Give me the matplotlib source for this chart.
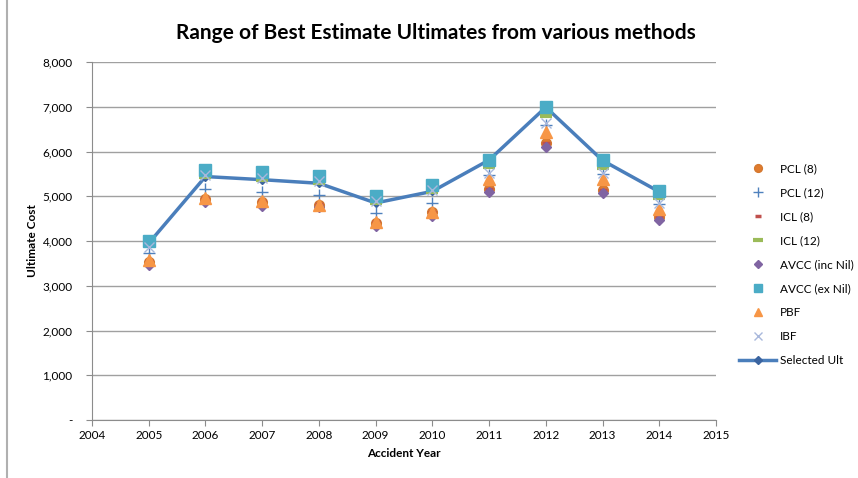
import matplotlib.pyplot as plt
from matplotlib.lines import Line2D
from matplotlib.ticker import FuncFormatter

plt.rcParams['font.family'] = ['Lato', 'DejaVu Sans']

years = [2005, 2006, 2007, 2008, 2009, 2010, 2011, 2012, 2013, 2014]

pcl_8 = [3540, 4940, 4880, 4810, 4410, 4640, 5160, 6190, 5140, 4530]
pcl_12 = [3730, 5160, 5100, 5030, 4620, 4860, 5480, 6600, 5500, 4820]
icl_8 = [3560, 4950, 4890, 4820, 4420, 4650, 5170, 6200, 5150, 4540]
icl_12 = [3920, 5440, 5360, 5300, 4860, 5100, 5660, 6790, 5640, 4970]
avcc_inc = [3470, 4870, 4790, 4750, 4330, 4550, 5100, 6110, 5070, 4470]
avcc_ex = [4010, 5580, 5540, 5460, 5010, 5260, 5820, 7000, 5810, 5110]
pbf = [3580, 4950, 4890, 4810, 4420, 4650, 5380, 6440, 5380, 4710]
ibf = [3860, 5470, 5400, 5330, 4900, 5150, 5510, 6630, 5520, 4850]
selected = [3950, 5440, 5370, 5290, 4850, 5110, 5810, 6990, 5800, 5100]

fig = plt.figure(figsize=(8.58, 4.78), dpi=100)
ax = fig.add_axes([92 / 858, 1 - 420 / 478, (716 - 92) / 858, (420 - 62) / 478])

ax.plot(years, pcl_8, 'o', color='#E07B2E', ms=7, label='PCL (8)', mec='#D4782F')
ax.plot(years, pcl_12, '+', color='#4F81BD', ms=9, mew=1.0, label='PCL (12)')
ax.plot(years, icl_8, '_', color='#C0504D', ms=6, mew=2.5, label='ICL (8)')
ax.plot(years, icl_12, '_', color='#9BBB59', ms=9, mew=3, label='ICL (12)')
ax.plot(years, avcc_inc, 'D', color='#8064A2', ms=5.5, label='AVCC (inc Nil)')
ax.plot(years, avcc_ex, 's', color='#4BACC6', ms=8, label='AVCC (ex Nil)')
ax.plot(years, pbf, '^', color='#F79646', ms=8, label='PBF')
ax.plot(years, ibf, 'x', color='#A9B8DC', ms=7, mew=1.0, label='IBF')
ax.plot(years, selected, '-D', color='#4A7EBB', lw=2.5, ms=4.5,
        mfc='#3B64A0', mec='#3B64A0', label='Selected Ult', zorder=1.9)

ax.set_xlim(2004, 2015)
ax.set_ylim(0, 8000)
ax.set_xticks(range(2004, 2016))
ax.set_yticks(range(0, 8001, 1000))
ax.yaxis.set_major_formatter(FuncFormatter(lambda v, p: '-' if v == 0 else f'{int(v):,}'))

ax.grid(axis='y', color='#A0A0A0', lw=1)
ax.set_axisbelow(True)
for s in ['top', 'right']:
    ax.spines[s].set_visible(False)
for s in ['left', 'bottom']:
    ax.spines[s].set_color('#8C8C8C')
ax.tick_params(axis='both', colors='#8C8C8C', labelcolor='black', labelsize=8.5,
               length=4, direction='out')
ax.tick_params(axis='y', pad=10)

ax.set_xlabel('Accident Year', fontsize=8.5, fontweight='bold', labelpad=5)
ax.set_ylabel('Ultimate Cost', fontsize=8.5, fontweight='bold', labelpad=3)

fig.text(436 / 858, 1 - 33 / 478, 'Range of Best Estimate Ultimates from various methods',
         ha='center', va='center', fontsize=15, fontweight='bold')

ax.legend(loc='center left', bbox_to_anchor=(728 / 858, 1 - 265 / 478),
          bbox_transform=fig.transFigure, frameon=False, fontsize=8.5,
          labelspacing=1.1, handlelength=3.2, handletextpad=0.3, markerscale=0.8)

fig.add_artist(Line2D([7 / 858, 7 / 858], [0, 1], color='#B0B0B0', lw=1.5))

fig.savefig('out.png', dpi=100)
